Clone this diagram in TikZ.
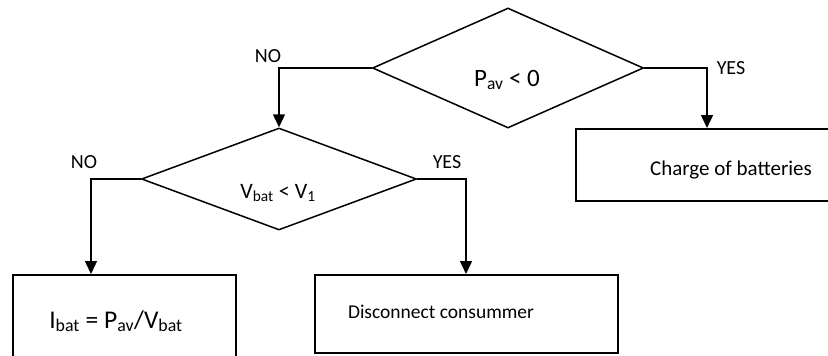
\documentclass[tikz,border=0pt]{standalone}
\usepackage{fontspec}
\setmainfont{Carlito}
\usetikzlibrary{shapes.geometric,arrows.meta}
\begin{document}
\begin{tikzpicture}[x=1pt,y=-1pt,
  shp/.style={draw,line width=1.5pt},
  dia/.style={shp,diamond,inner sep=0pt},
  box/.style={shp,rectangle,inner sep=0pt,anchor=north west},
  lbl/.style={anchor=base,inner sep=0pt,font=\fontsize{20}{24}\selectfont},
  txt/.style={anchor=base,inner sep=0pt},
  arr/.style={line width=1.5pt,-{Triangle[width=12pt,length=13pt]}}]
\useasboundingbox (0,0) rectangle (828,356);
\clip (0,0) rectangle (828,356);
% decisions
\node[dia,minimum width=271pt,minimum height=120pt] (d1) at (508,68) {};
\node[dia,minimum width=275pt,minimum height=102pt] (d2) at (279,179) {};
% boxes
\node[box,minimum width=223pt,minimum height=92pt] (ib) at (12,274) {};
\node[box,minimum width=303pt,minimum height=78pt] (db) at (314,274) {};
\node[box,minimum width=272pt,minimum height=72pt] (cb) at (575,128) {};
% texts
\node[txt,font=\fontsize{25}{29}\selectfont] (t1) at (507,86) {P\textsubscript{av} < 0};
\node[txt,font=\fontsize{22}{26}\selectfont] (t2) at (278,198) {V\textsubscript{bat} < V\textsubscript{1}};
\node[txt,font=\fontsize{21}{25}\selectfont] (t3) at (731,175) {Charge of batteries};
\node[txt,font=\fontsize{25.5}{29}\selectfont] (t4) at (116,328) {I\textsubscript{bat} = P\textsubscript{av}/V\textsubscript{bat}};
\node[txt,font=\fontsize{19.5}{23}\selectfont] (t5) at (441,318) {Disconnect consummer};
% branch labels
\node[lbl] (n1) at (268,62) {NO};
\node[lbl] (y1) at (731,74) {YES};
\node[lbl] (n2) at (84,168) {NO};
\node[lbl] (y2) at (447,168) {YES};
% connectors
\draw[arr] (d1.west) -| (d2.north);
\draw[arr] (d1.east) -| ([xshift=132pt]cb.north west);
\draw[arr] (d2.west) -| ([xshift=79pt]ib.north west);
\draw[arr] (d2.east) -| ([xshift=152pt]db.north west);
\end{tikzpicture}
\end{document}
